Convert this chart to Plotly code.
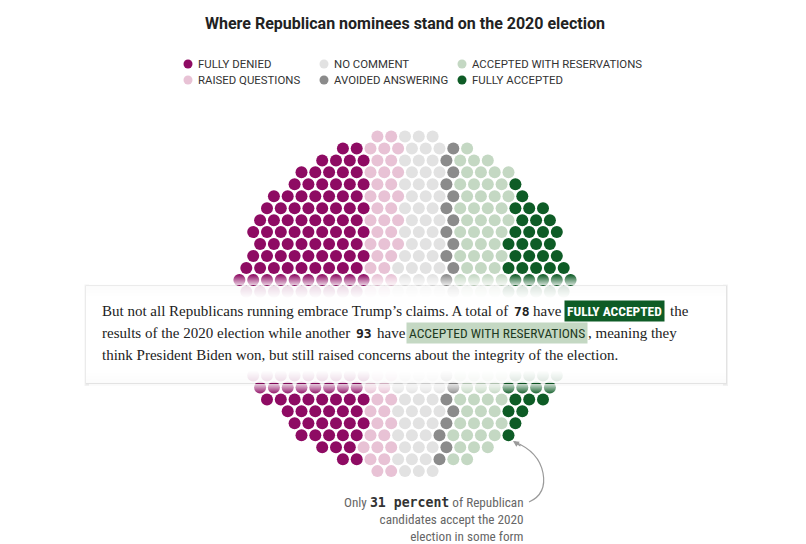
import numpy as np
import plotly.graph_objects as go

# ---------------- data ----------------
categories = ["FULLY DENIED", "RAISED QUESTIONS", "NO COMMENT",
              "AVOIDED ANSWERING", "ACCEPTED WITH RESERVATIONS", "FULLY ACCEPTED"]
counts = [196, 64, 94, 27, 93, 78]
colors = ["#8e0b63", "#e8c2d5", "#e2e2e2", "#8b8b8b", "#c4d8c3", "#0e5c26"]

title_text = "Where Republican nominees stand on the 2020 election"
fully_accepted_n = 78
reservations_n = 93
accept_pct = 31

# ---------------- dot layout (hex lattice inside a clipped circle) ----------------
total = sum(counts)
CX, CY = 405.0, 303.8
DX = 13.8
DY = DX * np.sqrt(3) / 2
cand = []
for j in range(-20, 21):
    for i in range(-20, 21):
        cand.append((CX + (i + (0.5 if j % 2 else 0.0)) * DX, CY + j * DY))
cand = np.array(cand)
keep = (np.abs(cand[:, 0] - CX) <= 166) & (np.abs(cand[:, 1] - CY) <= 168)
cand = cand[keep]
dist = np.hypot(cand[:, 0] - CX, cand[:, 1] - CY)
pts = cand[np.argsort(dist, kind="stable")[:total]]
pts = pts[np.lexsort((pts[:, 1], np.round(pts[:, 0], 3)))]

fig = go.Figure()
start = 0
for cat, n, col in zip(categories, counts, colors):
    seg = pts[start:start + n]
    start += n
    fig.add_trace(go.Scatter(x=seg[:, 0], y=seg[:, 1], mode="markers",
                             marker=dict(size=12, color=col, line=dict(width=0)),
                             name=cat, hoverinfo="name"))

# ---------------- custom legend ----------------
leg_x = [188, 324, 462]
leg_y = [64, 80]
lx, ly = [], []
for i, (cat, col) in enumerate(zip(categories, colors)):
    x0 = leg_x[i // 2]
    y0 = leg_y[i % 2]
    lx.append(x0)
    ly.append(y0)
    fig.add_annotation(x=x0 + 8, y=y0, text=cat, showarrow=False, xanchor="left",
                       yanchor="middle", font=dict(family="Roboto", size=11.4, color="#333"))
fig.add_trace(go.Scatter(x=lx, y=ly, mode="markers",
                         marker=dict(size=9, color=colors, line=dict(width=0)),
                         hoverinfo="skip", showlegend=False))

# ---------------- title ----------------
fig.add_annotation(x=405, y=23, text="<b>" + title_text + "</b>", showarrow=False,
                   xanchor="center", yanchor="middle",
                   font=dict(family="Roboto", size=16, color="#222"))

# ---------------- overlay box with fade ----------------
BX0, BX1, BY0, BY1 = 86, 726, 286, 383
shapes = []
shapes.append(dict(type="rect", x0=BX0 - 1.5, x1=BX1 + 2, y0=BY0 - 1.5, y1=BY1 + 3,
                   fillcolor="rgba(0,0,0,0.05)", line=dict(width=0), layer="above"))
shapes.append(dict(type="rect", x0=BX0 - 0.5, x1=BX1 + 1, y0=BY0 - 0.5, y1=BY1 + 1.5,
                   fillcolor="rgba(0,0,0,0.06)", line=dict(width=0), layer="above"))


def strip(y0, y1, op, xa=BX0, xb=BX1):
    shapes.append(dict(type="rect", x0=xa, x1=xb, y0=y0, y1=y1,
                       fillcolor="rgba(255,255,255,%.3f)" % op, line=dict(width=0), layer="above"))


for i in range(10):
    strip(BY0 - 11 + i, BY0 - 10 + i, 0.075 * (i + 1), BX0 + 3, BX1 - 3)
    strip(BY1 + 10 - i, BY1 + 11 - i, 0.075 * (i + 1), BX0 + 3, BX1 - 3)
for i in range(12):
    op = 0.86 + 0.0117 * i
    strip(BY0 + i, BY0 + i + 1, op)
    strip(BY1 - i - 1, BY1 - i, op)
strip(BY0 + 12, BY1 - 12, 1.0)

# arrow curve
shapes.append(dict(type="path", path="M 529 502 Q 547 494 543 473 Q 539 452 515 442",
                   line=dict(color="#9a9a9a", width=1.2), layer="above"))
fig.update_layout(shapes=shapes)

serif = "Liberation Serif"
mono = "DejaVu Sans Mono"
narrow = "Liberation Sans Narrow, Roboto Condensed, Roboto"
tc = "#222"
ts = 15


def txt(x, y, s, fam=serif, size=ts, color=tc, **kw):
    fig.add_annotation(x=x, y=y, text=s, showarrow=False, xanchor="left", yanchor="middle",
                       font=dict(family=fam, size=size, color=color), **kw)


txt(100, 311, "But not all Republicans running embrace Trump’s claims. A total of")
txt(512, 311, "<b>%d</b>" % fully_accepted_n, fam=mono, size=13)
txt(531, 311, "have")
txt(564, 311, "<b>FULLY ACCEPTED</b>", fam=narrow, size=13.5, color="#ffffff",
    bgcolor=colors[5], borderpad=2)
txt(668, 311, "the")

txt(100, 333, "results of the 2020 election while another")
txt(354, 333, "<b>%d</b>" % reservations_n, fam=mono, size=13)
txt(375, 333, "have")
txt(406, 333, "ACCEPTED WITH RESERVATIONS", fam=narrow, size=13.5, color="#1e3a22",
    bgcolor=colors[4], borderpad=2)
txt(586, 333, ", meaning they")

txt(100, 355, "think President Biden won, but still raised concerns about the integrity of the election.")

# bottom callout
fig.add_annotation(x=526, y=519,
                   text=("Only <span style='font-family:DejaVu Sans Mono;color:#333'><b>%d percent</b></span>"
                         " of Republican<br>candidates accept the 2020<br>election in some form") % accept_pct,
                   showarrow=False, xanchor="right", yanchor="middle", align="right",
                   font=dict(family=narrow, size=13.2, color="#666"))
fig.add_annotation(x=513, y=441, ax=9, ay=6, text="", showarrow=True, arrowhead=2,
                   arrowsize=1, arrowwidth=1.2, arrowcolor="#9a9a9a", xref="x", yref="y")

# page body has an 8px margin: map data units 1:1 to window pixels
fig.update_layout(width=798, height=536, margin=dict(l=0, r=0, t=0, b=0),
                  paper_bgcolor="white", plot_bgcolor="white", showlegend=False,
                  xaxis=dict(range=[8, 806], visible=False, fixedrange=True),
                  yaxis=dict(range=[544, 8], visible=False, fixedrange=True))
fig.write_html("out.html")
